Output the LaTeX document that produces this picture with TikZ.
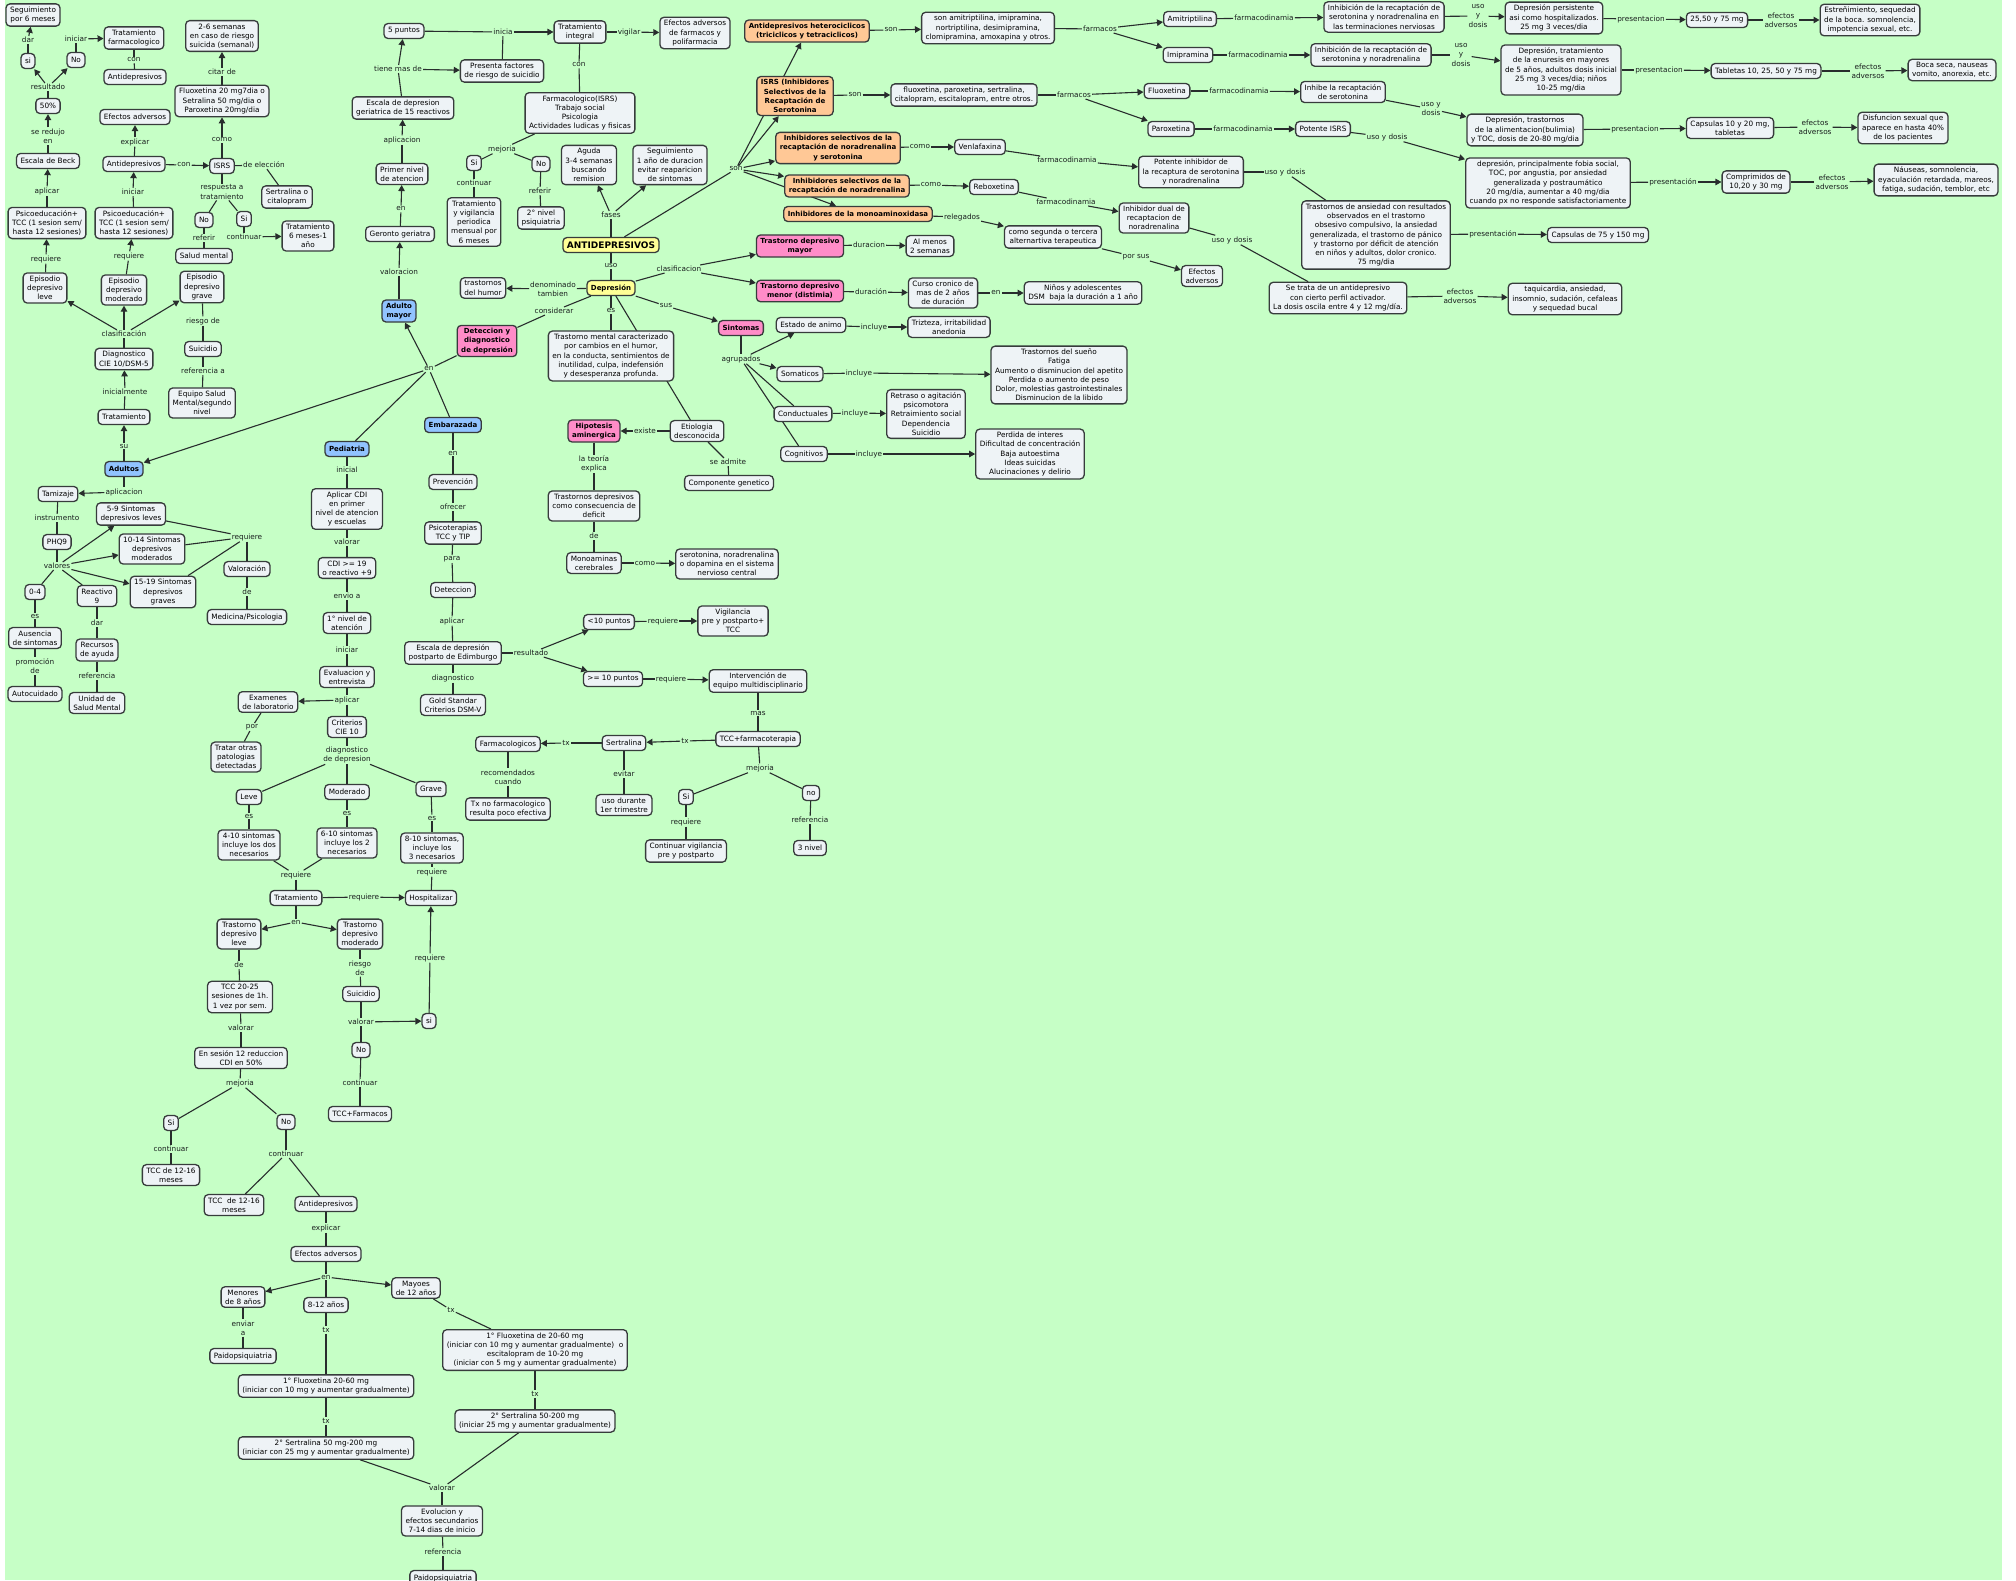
\documentclass[tikz,border=0pt]{standalone}
\usepackage{fontspec}
\setmainfont{DejaVu Sans}
\usetikzlibrary{arrows.meta}
\definecolor{bgc}{RGB}{198,255,198}
\definecolor{boxc}{RGB}{238,243,246}
\definecolor{bordc}{RGB}{55,60,60}
\definecolor{linec}{RGB}{40,45,45}
\definecolor{labc}{RGB}{25,30,30}
\definecolor{ornc}{RGB}{255,200,150}
\definecolor{pnkc}{RGB}{255,140,200}
\definecolor{bluc}{RGB}{145,195,255}
\definecolor{yelc}{RGB}{255,255,150}
\newcommand\myrf{\fontsize{7.3}{9.2}\selectfont}
\newcommand\mybf{\fontsize{7}{9.2}\selectfont\bfseries}
\newcommand\Eln[2]{\draw[lnk] (#1) -- (#2);}
\newcommand\Ear[2]{\draw[arw] (#1) -- (#2);}
\pgfdeclarelayer{background}
\pgfsetlayers{background,main}
\tikzset{
 cbox/.style={draw=bordc, line width=1.3pt, fill=boxc, rounded corners=4pt, align=center,
   inner xsep=4pt, inner ysep=3pt, minimum height=15pt, font=\myrf},
 orn/.style={cbox, fill=ornc, font=\mybf},
 pnk/.style={cbox, fill=pnkc, font=\mybf},
 blu/.style={cbox, fill=bluc, font=\mybf},
 yel/.style={cbox, fill=yelc, font=\mybf},
 lbl/.style={align=center, inner sep=1pt, font=\myrf, text=labc},
 lnk/.style={draw=linec, line width=1.1pt},
 arw/.style={lnk, -{Triangle[length=6pt,width=6.5pt]}},
}
\begin{document}
\begin{tikzpicture}[x=1pt,y=-1pt]
\useasboundingbox (0,0) rectangle (2016,1580);
\begin{pgfonlayer}{background}
\fill[white] (0,0) rectangle (2016,1580);
\fill[bgc] (5,0) rectangle (2002,1580);
\end{pgfonlayer}

% ---------------- left column (Adultos)
\node[cbox] (seg6) at (33,15) {Seguimiento\\por 6 meses};
\node[lbl] (lA1) at (28,40) {dar};
\node[cbox] (si1) at (28,61) {si};
\node[cbox] (No1) at (76,60) {No};
\node[lbl] (lA2) at (76,39) {iniciar};
\node[cbox] (TrFarm) at (134,38) {Tratamiento\\farmacologico};
\node[lbl] (lA3) at (134,60) {con};
\node[cbox] (AntiD1) at (135,77) {Antidepresivos};
\node[lbl] (lA4) at (48,87) {resultado};
\node[cbox] (p50) at (48,106) {50\%};
\node[lbl] (lA5) at (48,136) {se redujo\\en};
\node[cbox] (Beck) at (48,161) {Escala de Beck};
\node[lbl] (lA6) at (47,191) {aplicar};
\node[cbox] (Psico1) at (47,223) {Psicoeducación+\\TCC (1 sesion sem/\\hasta 12 sesiones)};
\node[lbl] (lA7) at (46,259) {requiere};
\node[cbox] (EpLeve) at (45,288) {Episodio\\depresivo\\leve};
\node[cbox] (EfAdv1) at (135,117) {Efectos adversos};
\node[lbl] (lA8) at (135,142) {explicar};
\node[cbox] (AntiD2) at (134,164) {Antidepresivos};
\node[lbl] (lA9) at (184,165) {con};
\node[cbox] (ISRS) at (222,166) {ISRS};
\node[lbl] (lA10) at (133,192) {iniciar};
\node[cbox] (Psico2) at (134,223) {Psicoeducación+\\TCC (1 sesion sem/\\hasta 12 sesiones)};
\node[lbl] (lA11) at (129,256) {requiere};
\node[cbox] (EpMod) at (124,290) {Episodio\\depresivo\\moderado};
\node[cbox] (EpGrave) at (202,287) {Episodio\\depresivo\\grave};
\node[lbl] (lA12) at (124,334) {clasificación};
\node[cbox] (Diag) at (124,359) {Diagnostico\\CIE 10/DSM-5};
\node[lbl] (lA13) at (203,321) {riesgo de};
\node[cbox] (Suic1) at (203,349) {Suicidio};
\node[lbl] (lA14) at (203,371) {referencia a};
\node[cbox] (Equipo) at (202,403) {Equipo Salud\\Mental/segundo\\nivel};
\node[cbox] (Fluox1) at (222,101) {Fluoxetina 20 mg7dia o\\Setralina 50 mg/dia o\\Paroxetina 20mg/dia};
\node[lbl] (lA15) at (222,72) {citar de};
\node[cbox] (sem26) at (222,36) {2-6 semanas\\en caso de riesgo\\suicida (semanal)};
\node[lbl] (lA16) at (222,140) {como};
\node[lbl] (lA17) at (264,165) {de elección};
\node[cbox] (Sertr1) at (287,197) {Sertralina o\\citalopram};
\node[lbl] (lA18) at (222,192) {respuesta a\\tratamiento};
\node[cbox] (No2) at (204,220) {No};
\node[cbox] (Si2) at (244,219) {Si};
\node[lbl] (lA19) at (204,238) {referir};
\node[cbox] (SaludM) at (204,256) {Salud mental};
\node[lbl] (lA20) at (244,237) {continuar};
\node[cbox] (Trat6) at (308,236) {Tratamiento\\6 meses-1\\año};
\node[lbl] (lA21) at (125,392) {inicialmente};
\node[cbox] (Trat1) at (124,417) {Tratamiento};
\node[lbl] (lA22) at (124,446) {su};
\node[blu] (Adultos) at (124,469) {Adultos};
\node[lbl] (lA23) at (124,492) {aplicacion};
\node[cbox] (Tamiz) at (58,494) {Tamizaje};
\node[lbl] (lA24) at (57,518) {instrumento};
\node[cbox] (PHQ9) at (57,542) {PHQ9};
\node[lbl] (lA25) at (57,566) {valores};
\node[cbox] (s59) at (131,514) {5-9 Sintomas\\depresivos leves};
\node[cbox] (s1014) at (152,549) {10-14 Sintomas\\depresivos\\moderados};
\node[cbox] (s1519) at (163,592) {15-19 Sintomas\\depresivos\\graves};
\node[lbl] (lA26) at (247,537) {requiere};
\node[cbox] (Valor) at (247,569) {Valoración};
\node[lbl] (lA27) at (247,592) {de};
\node[cbox] (MedPsi) at (247,617) {Medicina/Psicologia};
\node[cbox] (z04) at (35,592) {0-4};
\node[lbl] (lA28) at (35,616) {es};
\node[cbox] (Ausencia) at (35,638) {Ausencia\\de sintomas};
\node[lbl] (lA29) at (35,666) {promoción\\de};
\node[cbox] (Autoc) at (35,694) {Autocuidado};
\node[cbox] (React9) at (97,596) {Reactivo\\9};
\node[lbl] (lA30) at (97,623) {dar};
\node[cbox] (Recursos) at (97,650) {Recursos\\de ayuda};
\node[lbl] (lA31) at (97,676) {referencia};
\node[cbox] (Unidad) at (97,703) {Unidad de\\Salud Mental};

% ---------------- Pediatria
\node[blu] (Ped) at (347,449) {Pediatria};
\node[lbl] (lP1) at (347,470) {inicial};
\node[cbox] (AplCDI) at (347,509) {Aplicar CDI\\en primer\\nivel de atencion\\y escuelas};
\node[lbl] (lP2) at (347,542) {valorar};
\node[cbox] (CDI19) at (347,568) {CDI >= 19\\o reactivo +9};
\node[lbl] (lP3) at (347,596) {envio a};
\node[cbox] (Niv1) at (347,623) {1° nivel de\\atención};
\node[lbl] (lP4) at (347,650) {iniciar};
\node[cbox] (EvalEnt) at (347,677) {Evaluacion y\\entrevista};
\node[lbl] (lP5) at (347,700) {aplicar};
\node[cbox] (Exam) at (268,702) {Examenes\\de laboratorio};
\node[cbox] (Crit) at (347,727) {Criterios\\CIE 10};
\node[lbl] (lP6) at (252,727) {por};
\node[cbox] (Tratar) at (236,757) {Tratar otras\\patologias\\detectadas};
\node[lbl] (lP7) at (347,755) {diagnostico\\de depresion};
\node[cbox] (Leve) at (249,797) {Leve};
\node[cbox] (Moder) at (347,792) {Moderado};
\node[cbox] (Grave) at (431,789) {Grave};
\node[lbl] (lP8) at (249,816) {es};
\node[lbl] (lP9) at (347,813) {es};
\node[lbl] (lP10) at (432,818) {es};
\node[cbox] (s410) at (249,845) {4-10 sintomas\\incluye los dos\\necesarios};
\node[cbox] (s610) at (347,843) {6-10 sintomas\\incluye los 2\\necesarios};
\node[cbox] (s810) at (432,848) {8-10 sintomas,\\incluye los\\3 necesarios};
\node[lbl] (lP11) at (296,875) {requiere};
\node[lbl] (lP12) at (432,872) {requiere};
\node[cbox] (TratP) at (296,898) {Tratamiento};
\node[lbl] (lP13) at (364,897) {requiere};
\node[cbox] (Hosp) at (431,898) {Hospitalizar};
\node[lbl] (lP14) at (296,922) {en};
\node[cbox] (TDL) at (239,934) {Trastorno\\depresivo\\leve};
\node[cbox] (TDM) at (360,934) {Trastorno\\depresivo\\moderado};
\node[lbl] (lP15) at (239,965) {de};
\node[cbox] (TCC2025) at (240,997) {TCC 20-25\\sesiones de 1h.\\1 vez por sem.};
\node[lbl] (lP16) at (241,1028) {valorar};
\node[cbox] (Ses12) at (241,1058) {En sesión 12 reduccion\\CDI en 50\%};
\node[lbl] (lP17) at (240,1083) {mejoria};
\node[cbox] (SiP) at (171,1123) {Si};
\node[cbox] (NoP) at (286,1122) {No};
\node[lbl] (lP18) at (171,1149) {continuar};
\node[cbox] (TCCa) at (171,1175) {TCC de 12-16\\meses};
\node[lbl] (lP19) at (286,1154) {continuar};
\node[cbox] (TCCb) at (234,1205) {TCC\ \ de 12-16\\meses};
\node[cbox] (AntiP) at (326,1204) {Antidepresivos};
\node[lbl] (lP20) at (326,1228) {explicar};
\node[cbox] (EfAdvP) at (326,1254) {Efectos adversos};
\node[lbl] (lP21) at (326,1277) {en};
\node[cbox] (Menor) at (243,1297) {Menores\\de 8 años};
\node[lbl] (lP22) at (243,1328) {enviar\\a};
\node[cbox] (Paido1) at (243,1356) {Paidopsiquiatria};
\node[cbox] (A812) at (326,1305) {8-12 años};
\node[lbl] (lP23) at (326,1330) {tx};
\node[cbox] (Mayor) at (416,1288) {Mayoes\\de 12 años};
\node[lbl] (lP24) at (451,1310) {tx};
\node[cbox] (Fl2060b) at (535,1350) {1° Fluoxetina de 20-60 mg\\(iniciar con 10 mg y aumentar gradualmente)\ \ o\\escitalopram de 10-20 mg\\(iniciar con 5 mg y aumentar gradualmente)};
\node[lbl] (lP25) at (535,1394) {tx};
\node[cbox] (Se200b) at (535,1421) {2° Sertralina 50-200 mg\\(iniciar 25 mg y aumentar gradualmente)};
\node[cbox] (Fl2060a) at (326,1386) {1° Fluoxetina 20-60 mg\\(iniciar con 10 mg y aumentar gradualmente)};
\node[lbl] (lP26) at (326,1421) {tx};
\node[cbox] (Se200a) at (326,1448) {2° Sertralina 50 mg-200 mg\\(iniciar con 25 mg y aumentar gradualmente)};
\node[lbl] (lP27) at (442,1488) {valorar};
\node[cbox] (Evol) at (442,1521) {Evolucion y\\efectos secundarios\\7-14 dias de inicio};
\node[lbl] (lP28) at (443,1552) {referencia};
\node[cbox] (Paido2) at (443,1578) {Paidopsiquiatria};
\node[lbl] (lP29) at (360,968) {riesgo\\de};
\node[cbox] (SuicP) at (361,994) {Suicidio};
\node[lbl] (lP30) at (361,1022) {valorar};
\node[cbox] (siP) at (429,1021) {si};
\node[cbox] (NoP2) at (361,1050) {No};
\node[lbl] (lP31) at (360,1083) {continuar};
\node[cbox] (TCCF) at (360,1114) {TCC+Farmacos};
\node[lbl] (lP32) at (430,958) {requiere};

% ---------------- Embarazada
\node[blu] (Emb) at (453,425) {Embarazada};
\node[lbl] (lE1) at (453,453) {en};
\node[cbox] (Prev) at (453,482) {Prevención};
\node[lbl] (lE2) at (453,507) {ofrecer};
\node[cbox] (Psicot) at (453,533) {Psicoterapias\\TCC y TIP};
\node[lbl] (lE3) at (452,559) {para};
\node[cbox] (Detecc) at (453,590) {Deteccion};
\node[lbl] (lE4) at (452,621) {aplicar};
\node[cbox] (Edimb) at (453,653) {Escala de depresión\\postparto de Edimburgo};
\node[lbl] (lE5) at (453,678) {diagnostico};
\node[cbox] (Gold) at (453,705) {Gold Standar\\Criterios DSM-V};
\node[lbl] (lE6) at (531,653) {resultado};
\node[cbox] (men10) at (609,622) {<10 puntos};
\node[cbox] (may10) at (613,679) {>= 10 puntos};
\node[lbl] (lE7) at (663,621) {requiere};
\node[cbox] (Vigil) at (733,621) {Vigilancia\\pre y postparto+\\TCC};
\node[lbl] (lE8) at (671,679) {requiere};
\node[cbox] (Interv) at (758,681) {Intervención de\\equipo multidisciplinario};
\node[lbl] (lE9) at (758,713) {mas};
\node[cbox] (TCCf) at (758,739) {TCC+farmacoterapia};
\node[lbl] (lE10) at (685,741) {tx};
\node[cbox] (Sertr2) at (624,743) {Sertralina};
\node[lbl] (lE11) at (566,743) {tx};
\node[cbox] (Farmac) at (508,744) {Farmacologicos};
\node[lbl] (lE12) at (508,777) {recomendados\\cuando};
\node[cbox] (TxNo) at (508,809) {Tx no farmacologico\\resulta poco efectiva};
\node[lbl] (lE13) at (624,774) {evitar};
\node[cbox] (Uso1er) at (624,805) {uso durante\\1er trimestre};
\node[lbl] (lE14) at (760,768) {mejoria};
\node[cbox] (SiE) at (686,797) {Si};
\node[cbox] (noE) at (811,793) {no};
\node[lbl] (lE15) at (686,822) {requiere};
\node[cbox] (ContV) at (686,851) {Continuar vigilancia\\pre y postparto};
\node[lbl] (lE16) at (810,820) {referencia};
\node[cbox] (n3) at (810,848) {3 nivel};

% ---------------- Adulto mayor
\node[cbox] (p5) at (404,31) {5 puntos};
\node[lbl] (lG5) at (503,32) {inicia};
\node[cbox] (TrInt) at (580,32) {Tratamiento\\integral};
\node[lbl] (lG6) at (629,32) {vigilar};
\node[cbox] (EfAdvF) at (695,33) {Efectos adversos\\de farmacos y\\polifarmacia};
\node[lbl] (lG4) at (398,69) {tiene mas de};
\node[cbox] (Presenta) at (502,71) {Presenta factores\\de riesgo de suicidio};
\node[cbox] (Esc15) at (403,108) {Escala de depresion\\geriatrica de 15 reactivos};
\node[lbl] (lG3) at (402,140) {aplicacion};
\node[cbox] (PrimerN) at (402,174) {Primer nivel\\de atencion};
\node[lbl] (lG2) at (401,209) {en};
\node[cbox] (Geronto) at (400,234) {Geronto geriatra};
\node[lbl] (lG1) at (399,272) {valoracion};
\node[blu] (AdMayor) at (399,311) {Adulto\\mayor};
\node[lbl] (lG7) at (579,65) {con};
\node[cbox] (FarmISRS) at (580,113) {Farmacologico(ISRS)\\Trabajo social\\Psicologia\\Actividades ludicas y fisicas};
\node[lbl] (lG8) at (502,149) {mejoria};
\node[cbox] (SiG) at (474,163) {Si};
\node[cbox] (NoG) at (541,164) {No};
\node[lbl] (lG9) at (474,183) {continuar};
\node[lbl] (lG10) at (540,191) {referir};
\node[cbox] (TratV) at (474,222) {Tratamiento\\y vigilancia\\periodica\\mensual por\\6 meses};
\node[cbox] (Nivel2) at (541,218) {2° nivel\\psiquiatria};

% ---------------- centre
\node[cbox] (Aguda) at (589,165) {Aguda\\3-4 semanas\\buscando\\remision};
\node[cbox] (SeguimA) at (670,165) {Seguimiento\\1 año de duracion\\evitar reaparicion\\de sintomas};
\node[lbl] (lC3) at (611,215) {fases};
\node[yel, font=\fontsize{9}{11}\selectfont\bfseries] (ANTI) at (611,245) {ANTIDEPRESIVOS};
\node[lbl] (lC4) at (736,169) {son};
\node[lbl] (lC5) at (611,266) {uso};
\node[yel] (Depres) at (611,288) {Depresión};
\node[lbl] (lC6) at (553,289) {denominado\\tambien};
\node[cbox] (TrHumor) at (483,288) {trastornos\\del humor};
\node[lbl] (lC7) at (679,269) {clasificacion};
\node[lbl] (lC2) at (554,311) {considerar};
\node[lbl] (lC8) at (611,311) {es};
\node[lbl] (lC9) at (666,306) {sus};
\node[pnk] (Det) at (487,341) {Deteccion y\\diagnostico\\de depresión};
\node[lbl] (lC1) at (429,369) {en};
\node[cbox] (TrMental) at (611,356) {Trastorno mental caracterizado\\por cambios en el humor,\\en la conducta, sentimientos de\\inutilidad, culpa, indefensión\\y desesperanza profunda.};
\node[cbox] (Etiol) at (697,431) {Etiologia\\desconocida};
\node[lbl] (lC10) at (645,431) {existe};
\node[pnk] (Hipot) at (594,431) {Hipotesis\\aminergica};
\node[lbl] (lC12) at (594,464) {la teoría\\explica};
\node[cbox] (TrDef) at (594,506) {Trastornos depresivos\\como consecuencia de\\deficit};
\node[lbl] (lC13) at (594,536) {de};
\node[cbox] (Monoam) at (594,563) {Monoaminas\\cerebrales};
\node[lbl] (lC14) at (645,563) {como};
\node[cbox] (Seroton) at (727,564) {serotonina, noradrenalina\\o dopamina en el sistema\\nervioso central};
\node[lbl] (lC11) at (728,462) {se admite};
\node[cbox] (CompGen) at (729,483) {Componente genetico};
\node[pnk] (Sint) at (741,328) {Sintomas};
\node[lbl] (lC15) at (741,359) {agrupados};
\node[cbox] (EstAn) at (811,325) {Estado de animo};
\node[lbl] (lC16) at (874,327) {incluye};
\node[cbox] (Trizt) at (949,327) {Trizteza, irritabilidad\\anedonia};
\node[cbox] (Somat) at (800,374) {Somaticos};
\node[lbl] (lC17) at (859,373) {incluye};
\node[cbox] (SomList) at (1059,375) {Trastornos del sueño\\Fatiga\\Aumento o disminucion del apetito\\Perdida o aumento de peso\\Dolor, molestias gastrointestinales\\Disminucion de la libido};
\node[cbox] (Conduc) at (803,414) {Conductuales};
\node[lbl] (lC18) at (855,413) {incluye};
\node[cbox] (ConList) at (926,414) {Retraso o agitación\\psicomotora\\Retraimiento social\\Dependencia\\Suicidio};
\node[cbox] (Cognit) at (804,454) {Cognitivos};
\node[lbl] (lC19) at (869,454) {incluye};
\node[cbox] (CogList) at (1030,454) {Perdida de interes\\Dificultad de concentración\\Baja autoestima\\Ideas suicidas\\Alucinaciones y delirio};

% ---------------- right: drug classes
\node[orn] (Hetero) at (807,31) {Antidepresivos heterociclicos\\(triciclicos y tetraciclicos)};
\node[lbl] (lR1) at (891,30) {son};
\node[cbox] (HetList) at (988,28) {son amitriptilina, imipramina,\\nortriptilina, desimipramina,\\clomipramina, amoxapina y otros.};
\node[lbl] (lR2) at (1100,29) {farmacos};
\node[orn] (ISRSo) at (795,96) {ISRS (Inhibidores\\Selectivos de la\\Recaptación de\\Serotonina};
\node[lbl] (lR3) at (855,95) {son};
\node[cbox] (ISRSList) at (964,95) {fluoxetina, paroxetina, sertralina,\\citalopram, escitalopram, entre otros.};
\node[lbl] (lR4) at (1074,95) {farmacos};
\node[orn] (IRNS) at (838,148) {Inhibidores selectivos de la\\recaptación de noradrenalina\\y serotonina};
\node[lbl] (lR5) at (920,147) {como};
\node[cbox] (Venla) at (980,147) {Venlafaxina};
\node[lbl] (lR6) at (1067,160) {farmacodinamia};
\node[orn] (IRN) at (847,186) {Inhibidores selectivos de la\\recaptación de noradrenalina};
\node[lbl] (lR7) at (931,185) {como};
\node[cbox] (Rebox) at (994,187) {Reboxetina};
\node[lbl] (lR8) at (1066,202) {farmacodinamia};
\node[orn] (IMAO) at (858,214) {Inhibidores de la monoaminoxidasa};
\node[lbl] (lR9) at (962,217) {relegados};
\node[cbox] (Segunda) at (1053,237) {como segunda o tercera\\alternartiva terapeutica};
\node[lbl] (lR10) at (1136,257) {por sus};
\node[cbox] (EfAdvI) at (1202,276) {Efectos\\adversos};
\node[pnk] (TDMay) at (800,246) {Trastorno depresivo\\mayor};
\node[lbl] (lR11) at (869,245) {duracion};
\node[cbox] (AlMenos) at (930,246) {Al menos\\2 semanas};
\node[pnk] (TDMen) at (800,291) {Trastorno depresivo\\menor (distimia)};
\node[lbl] (lR12) at (871,292) {duración};
\node[cbox] (Curso) at (943,293) {Curso cronico de\\mas de 2 años\\de duración};
\node[lbl] (lR13) at (996,293) {en};
\node[cbox] (Ninos) at (1083,293) {Niños y adolescentes\\DSM\ \ baja la duración a 1 año};

% ---------------- far right: drugs
\node[cbox] (Amitr) at (1190,19) {Amitriptilina};
\node[lbl] (lD1) at (1264,18) {farmacodinamia};
\node[cbox] (InhSN) at (1384,17) {Inhibición de la recaptación de\\serotonina y noradrenalina en\\las terminaciones nerviosas};
\node[lbl] (lD2) at (1478,16) {uso\\y\\dosis};
\node[cbox] (DepPers) at (1554,18) {Depresión persistente\\asi como hospitalizados.\\25 mg 3 veces/dia};
\node[lbl] (lD3) at (1641,19) {presentacion};
\node[cbox] (p2550) at (1717,20) {25,50 y 75 mg};
\node[lbl] (lD4) at (1781,20) {efectos\\adversos};
\node[cbox] (Estren) at (1870,20) {Estreñimiento, sequedad\\de la boca. somnolencia,\\impotencia sexual, etc.};
\node[cbox] (Imipr) at (1188,55) {Imipramina};
\node[lbl] (lD5) at (1258,55) {farmacodinamia};
\node[cbox] (InhSN2) at (1371,55) {Inhibición de la recaptación de\\serotonina y noradrenalina};
\node[lbl] (lD6) at (1461,55) {uso\\y\\dosis};
\node[cbox] (DepEnur) at (1561,70) {Depresión, tratamiento\\de la enuresis en mayores\\de 5 años, adultos dosis inicial\\25 mg 3 veces/dia; niños\\10-25 mg/dia};
\node[lbl] (lD7) at (1659,70) {presentacion};
\node[cbox] (Tabl) at (1766,71) {Tabletas 10, 25, 50 y 75 mg};
\node[lbl] (lD8) at (1868,71) {efectos\\adversos};
\node[cbox] (Boca) at (1952,70) {Boca seca, nauseas\\vomito, anorexia, etc.};
\node[cbox] (Fluox) at (1167,91) {Fluoxetina};
\node[lbl] (lD9) at (1239,91) {farmacodinamia};
\node[cbox] (InhSer) at (1343,92) {Inhibe la recaptación\\de serotonina};
\node[lbl] (lD10) at (1431,109) {uso y\\dosis};
\node[cbox] (DepBul) at (1525,130) {Depresión, trastornos\\de la alimentacion(bulimia)\\y TOC, dosis de 20-80 mg/dia};
\node[lbl] (lD11) at (1635,129) {presentacion};
\node[cbox] (Caps1020) at (1730,128) {Capsulas 10 y 20 mg,\\tabletas};
\node[lbl] (lD12) at (1815,127) {efectos\\adversos};
\node[cbox] (Disf) at (1903,128) {Disfuncion sexual que\\aparece en hasta 40\%\\de los pacientes};
\node[cbox] (Parox) at (1171,129) {Paroxetina};
\node[lbl] (lD13) at (1243,129) {farmacodinamia};
\node[cbox] (PotISRS) at (1323,129) {Potente ISRS};
\node[lbl] (lD14) at (1387,137) {uso y dosis};
\node[cbox] (DepFob) at (1548,183) {depresión, principalmente fobia social,\\TOC, por angustia, por ansiedad\\generalizada y postraumático\\20 mg/dia, aumentar a 40 mg/dia\\cuando px no responde satisfactoriamente};
\node[lbl] (lD15) at (1673,182) {presentación};
\node[cbox] (Compr) at (1756,182) {Comprimidos de\\10,20 y 30 mg};
\node[lbl] (lD16) at (1832,182) {efectos\\adversos};
\node[cbox] (Nause) at (1936,180) {Náuseas, somnolencia,\\eyaculación retardada, mareos,\\fatiga, sudación, temblor, etc};
\node[cbox] (PotInh) at (1191,172) {Potente inhibidor de\\la recaptura de serotonina\\y noradrenalina};
\node[lbl] (lD17) at (1285,172) {uso y dosis};
\node[cbox] (TrAns) at (1376,235) {Trastornos de ansiedad con resultados\\observados en el trastorno\\obsesivo compulsivo, la ansiedad\\generalizada, el trastorno de pánico\\y trastorno por déficit de atención\\en niños y adultos, dolor cronico.\\75 mg/dia};
\node[lbl] (lD18) at (1493,234) {presentación};
\node[cbox] (Caps75) at (1598,235) {Capsulas de 75 y 150 mg};
\node[cbox] (InhDual) at (1154,218) {Inhibidor dual de\\recaptacion de\\noradrenalina};
\node[lbl] (lD19) at (1232,240) {uso y dosis};
\node[cbox] (Activ) at (1338,298) {Se trata de un antidepresivo\\con cierto perfil activador.\\La dosis oscila entre 4 y 12 mg/día.};
\node[lbl] (lD20) at (1460,296) {efectos\\adversos};
\node[cbox] (Taqui) at (1565,299) {taquicardia, ansiedad,\\insomnio, sudación, cefaleas\\y sequedad bucal};

% ================= connectors
\begin{pgfonlayer}{background}
% left
\Eln{si1}{lA1} \Ear{lA1}{seg6}
\Eln{No1}{lA2} \Ear{lA2}{TrFarm}
\Eln{TrFarm}{lA3} \Eln{lA3}{AntiD1}
\Eln{p50}{lA4} \Ear{lA4}{si1} \Ear{lA4}{No1}
\Eln{Beck}{lA5} \Ear{lA5}{p50}
\Eln{Psico1}{lA6} \Ear{lA6}{Beck}
\Eln{EpLeve}{lA7} \Ear{lA7}{Psico1}
\Eln{AntiD2}{lA8} \Ear{lA8}{EfAdv1}
\Eln{AntiD2}{lA9} \Ear{lA9}{ISRS}
\Eln{Psico2}{lA10} \Ear{lA10}{AntiD2}
\Eln{EpMod}{lA11} \Ear{lA11}{Psico2}
\Eln{Diag}{lA12} \Ear{lA12}{EpLeve} \Ear{lA12}{EpMod} \Ear{lA12}{EpGrave}
\Eln{EpGrave}{lA13} \Eln{lA13}{Suic1}
\Eln{Suic1}{lA14} \Eln{lA14}{Equipo}
\Eln{ISRS}{lA16} \Ear{lA16}{Fluox1}
\Eln{Fluox1}{lA15} \Ear{lA15}{sem26}
\Eln{ISRS}{lA17} \Eln{lA17}{Sertr1}
\Eln{ISRS}{lA18} \Eln{lA18}{No2} \Eln{lA18}{Si2}
\Eln{No2}{lA19} \Eln{lA19}{SaludM}
\Eln{Si2}{lA20} \Ear{lA20}{Trat6}
\Eln{Trat1}{lA21} \Ear{lA21}{Diag}
\Eln{Adultos}{lA22} \Ear{lA22}{Trat1}
\Eln{Adultos}{lA23} \Ear{lA23}{Tamiz}
\Eln{Tamiz}{lA24} \Eln{lA24}{PHQ9}
\Eln{PHQ9}{lA25} \Ear{lA25}{s59} \Ear{lA25}{s1014} \Ear{lA25}{s1519} \Eln{lA25}{z04} \Eln{lA25}{React9}
\Eln{s59}{lA26} \Eln{s1014}{lA26} \Eln{s1519}{lA26} \Eln{lA26}{Valor}
\Eln{Valor}{lA27} \Eln{lA27}{MedPsi}
\Eln{z04}{lA28} \Eln{lA28}{Ausencia}
\Eln{Ausencia}{lA29} \Eln{lA29}{Autoc}
\Eln{React9}{lA30} \Eln{lA30}{Recursos}
\Eln{Recursos}{lA31} \Eln{lA31}{Unidad}
% pediatria
\Eln{Ped}{lP1} \Eln{lP1}{AplCDI}
\Eln{AplCDI}{lP2} \Eln{lP2}{CDI19}
\Eln{CDI19}{lP3} \Eln{lP3}{Niv1}
\Eln{Niv1}{lP4} \Eln{lP4}{EvalEnt}
\Eln{EvalEnt}{lP5} \Ear{lP5}{Exam} \Eln{lP5}{Crit}
\Eln{Exam}{lP6} \Eln{lP6}{Tratar}
\Eln{Crit}{lP7} \Eln{lP7}{Leve} \Eln{lP7}{Moder} \Eln{lP7}{Grave}
\Eln{Leve}{lP8} \Eln{lP8}{s410}
\Eln{Moder}{lP9} \Eln{lP9}{s610}
\Eln{Grave}{lP10} \Eln{lP10}{s810}
\Eln{s410}{lP11} \Eln{s610}{lP11} \Eln{lP11}{TratP}
\Eln{s810}{lP12} \Eln{lP12}{Hosp}
\Eln{TratP}{lP13} \Ear{lP13}{Hosp}
\Eln{TratP}{lP14} \Ear{lP14}{TDL} \Ear{lP14}{TDM}
\Eln{TDL}{lP15} \Eln{lP15}{TCC2025}
\Eln{TCC2025}{lP16} \Eln{lP16}{Ses12}
\Eln{Ses12}{lP17} \Eln{lP17}{SiP} \Eln{lP17}{NoP}
\Eln{SiP}{lP18} \Eln{lP18}{TCCa}
\Eln{NoP}{lP19} \Eln{lP19}{TCCb} \Eln{lP19}{AntiP}
\Eln{AntiP}{lP20} \Eln{lP20}{EfAdvP}
\Eln{EfAdvP}{lP21} \Ear{lP21}{Menor} \Eln{lP21}{A812} \Ear{lP21}{Mayor}
\Eln{Menor}{lP22} \Eln{lP22}{Paido1}
\Eln{A812}{lP23} \Eln{lP23}{Fl2060a}
\Eln{Fl2060a}{lP26} \Eln{lP26}{Se200a}
\Eln{Mayor}{lP24} \Eln{lP24}{Fl2060b}
\Eln{Fl2060b}{lP25} \Eln{lP25}{Se200b}
\Eln{Se200a}{lP27} \Eln{Se200b}{lP27} \Eln{lP27}{Evol}
\Eln{Evol}{lP28} \Eln{lP28}{Paido2}
\Eln{TDM}{lP29} \Eln{lP29}{SuicP}
\Eln{SuicP}{lP30} \Ear{lP30}{siP} \Eln{lP30}{NoP2}
\Eln{NoP2}{lP31} \Eln{lP31}{TCCF}
\Eln{siP}{lP32} \Ear{lP32}{Hosp}
% embarazada
\Eln{Emb}{lE1} \Eln{lE1}{Prev}
\Eln{Prev}{lE2} \Eln{lE2}{Psicot}
\Eln{Psicot}{lE3} \Eln{lE3}{Detecc}
\Eln{Detecc}{lE4} \Eln{lE4}{Edimb}
\Eln{Edimb}{lE5} \Eln{lE5}{Gold}
\Eln{Edimb}{lE6} \Ear{lE6}{men10} \Ear{lE6}{may10}
\Eln{men10}{lE7} \Ear{lE7}{Vigil}
\Eln{may10}{lE8} \Ear{lE8}{Interv}
\Eln{Interv}{lE9} \Eln{lE9}{TCCf}
\Eln{TCCf}{lE10} \Ear{lE10}{Sertr2}
\Eln{Sertr2}{lE11} \Ear{lE11}{Farmac}
\Eln{Farmac}{lE12} \Eln{lE12}{TxNo}
\Eln{Sertr2}{lE13} \Eln{lE13}{Uso1er}
\Eln{TCCf}{lE14} \Eln{lE14}{SiE} \Eln{lE14}{noE}
\Eln{SiE}{lE15} \Eln{lE15}{ContV}
\Eln{noE}{lE16} \Eln{lE16}{n3}
% adulto mayor
\Eln{AdMayor}{lG1} \Ear{lG1}{Geronto}
\Eln{Geronto}{lG2} \Ear{lG2}{PrimerN}
\Eln{PrimerN}{lG3} \Ear{lG3}{Esc15}
\Eln{Esc15}{lG4} \Ear{lG4}{p5} \Ear{lG4}{Presenta}
\Eln{p5}{lG5} \Eln{Presenta}{lG5} \Ear{lG5}{TrInt}
\Eln{TrInt}{lG6} \Ear{lG6}{EfAdvF}
\Eln{TrInt}{lG7} \Eln{lG7}{FarmISRS}
\Eln{FarmISRS}{lG8} \Eln{lG8}{SiG} \Eln{lG8}{NoG}
\Eln{SiG}{lG9} \Eln{lG9}{TratV}
\Eln{NoG}{lG10} \Eln{lG10}{Nivel2}
% centre
\Eln{Det}{lC1} \Ear{lC1}{AdMayor} \Ear{lC1}{Adultos} \Eln{lC1}{Ped} \Eln{lC1}{Emb}
\Eln{Depres}{lC2} \Eln{lC2}{Det}
\Eln{ANTI}{lC3} \Ear{lC3}{Aguda} \Ear{lC3}{SeguimA}
\Eln{ANTI}{lC4} \Ear{lC4}{Hetero} \Ear{lC4}{ISRSo} \Ear{lC4}{IRNS} \Ear{lC4}{IRN} \Ear{lC4}{IMAO}
\Eln{ANTI}{lC5} \Eln{lC5}{Depres}
\Eln{Depres}{lC6} \Ear{lC6}{TrHumor}
\Eln{Depres}{lC7} \Ear{lC7}{TDMay} \Ear{lC7}{TDMen}
\Eln{Depres}{lC8} \Eln{lC8}{TrMental}
\Eln{Depres}{Etiol}
\Eln{Depres}{lC9} \Ear{lC9}{Sint}
\Eln{Etiol}{lC10} \Ear{lC10}{Hipot}
\Eln{Etiol}{lC11} \Eln{lC11}{CompGen}
\Eln{Hipot}{lC12} \Eln{lC12}{TrDef}
\Eln{TrDef}{lC13} \Eln{lC13}{Monoam}
\Eln{Monoam}{lC14} \Ear{lC14}{Seroton}
\Eln{Sint}{lC15} \Ear{lC15}{EstAn} \Ear{lC15}{Somat} \Eln{lC15}{Conduc} \Eln{lC15}{Cognit}
\Eln{EstAn}{lC16} \Ear{lC16}{Trizt}
\Eln{Somat}{lC17} \Ear{lC17}{SomList}
\Eln{Conduc}{lC18} \Ear{lC18}{ConList}
\Eln{Cognit}{lC19} \Ear{lC19}{CogList}
% right
\Eln{Hetero}{lR1} \Ear{lR1}{HetList}
\Eln{HetList}{lR2} \Ear{lR2}{Amitr} \Ear{lR2}{Imipr}
\Eln{ISRSo}{lR3} \Ear{lR3}{ISRSList}
\Eln{ISRSList}{lR4} \Ear{lR4}{Fluox} \Ear{lR4}{Parox}
\Eln{IRNS}{lR5} \Ear{lR5}{Venla}
\Eln{Venla}{lR6} \Ear{lR6}{PotInh}
\Eln{IRN}{lR7} \Ear{lR7}{Rebox}
\Eln{Rebox}{lR8} \Ear{lR8}{InhDual}
\Eln{IMAO}{lR9} \Ear{lR9}{Segunda}
\Eln{Segunda}{lR10} \Ear{lR10}{EfAdvI}
\Eln{TDMay}{lR11} \Ear{lR11}{AlMenos}
\Eln{TDMen}{lR12} \Ear{lR12}{Curso}
\Eln{Curso}{lR13} \Ear{lR13}{Ninos}
\Eln{Amitr}{lD1} \Ear{lD1}{InhSN}
\Eln{InhSN}{lD2} \Ear{lD2}{DepPers}
\Eln{DepPers}{lD3} \Ear{lD3}{p2550}
\Eln{p2550}{lD4} \Ear{lD4}{Estren}
\Eln{Imipr}{lD5} \Ear{lD5}{InhSN2}
\Eln{InhSN2}{lD6} \Ear{lD6}{DepEnur}
\Eln{DepEnur}{lD7} \Ear{lD7}{Tabl}
\Eln{Tabl}{lD8} \Ear{lD8}{Boca}
\Eln{Fluox}{lD9} \Ear{lD9}{InhSer}
\Eln{InhSer}{lD10} \Ear{lD10}{DepBul}
\Eln{DepBul}{lD11} \Ear{lD11}{Caps1020}
\Eln{Caps1020}{lD12} \Ear{lD12}{Disf}
\Eln{Parox}{lD13} \Ear{lD13}{PotISRS}
\Eln{PotISRS}{lD14} \Ear{lD14}{DepFob}
\Eln{DepFob}{lD15} \Ear{lD15}{Compr}
\Eln{Compr}{lD16} \Ear{lD16}{Nause}
\Eln{PotInh}{lD17} \Eln{lD17}{TrAns}
\Eln{TrAns}{lD18} \Ear{lD18}{Caps75}
\Eln{InhDual}{lD19} \Eln{lD19}{Activ}
\Eln{Activ}{lD20} \Ear{lD20}{Taqui}
\end{pgfonlayer}
\end{tikzpicture}
\end{document}
